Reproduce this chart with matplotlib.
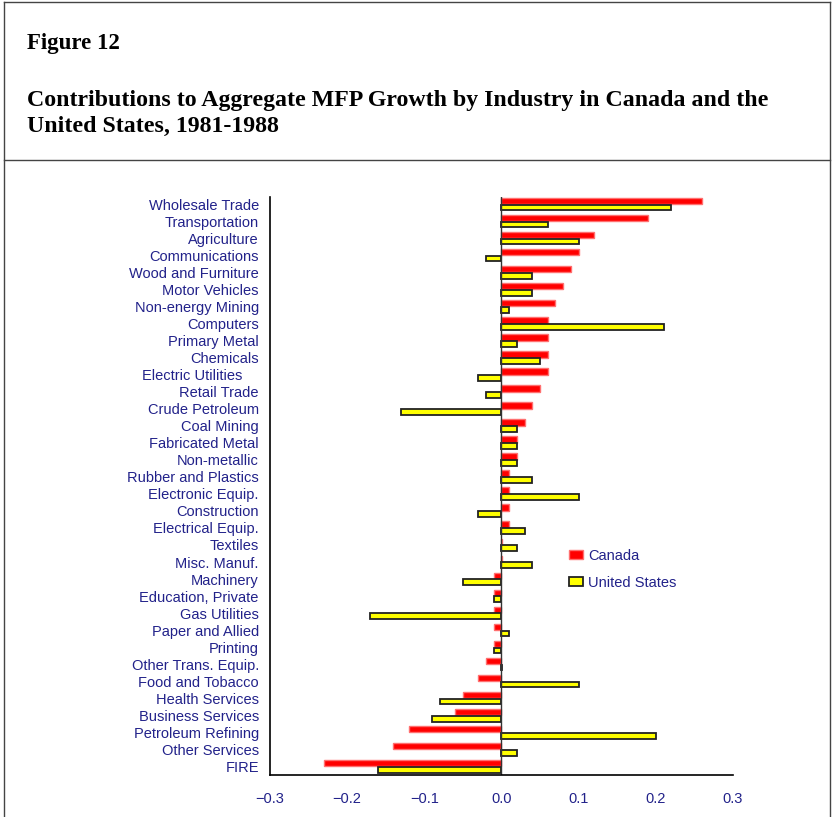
import numpy as np
import matplotlib
matplotlib.use('Agg')
import matplotlib.pyplot as plt
from matplotlib.lines import Line2D
from matplotlib.patches import Patch

# industries, top to bottom as in the figure
industries = ['Wholesale Trade', 'Transportation', 'Agriculture', 'Communications',
              'Wood and Furniture', 'Motor Vehicles', 'Non-energy Mining', 'Computers',
              'Primary Metal', 'Chemicals', 'Electric Utilities    ', 'Retail Trade',
              'Crude Petroleum', 'Coal Mining', 'Fabricated Metal', 'Non-metallic',
              'Rubber and Plastics', 'Electronic Equip.', 'Construction',
              'Electrical Equip.', 'Textiles', 'Misc. Manuf.', 'Machinery',
              'Education, Private', 'Gas Utilities', 'Paper and Allied', 'Printing',
              'Other Trans. Equip.', 'Food and Tobacco', 'Health Services',
              'Business Services', 'Petroleum Refining', 'Other Services', 'FIRE']

canada = [0.26, 0.19, 0.12, 0.10, 0.09, 0.08, 0.07, 0.06, 0.06, 0.06, 0.06, 0.05,
          0.04, 0.03, 0.02, 0.02, 0.01, 0.01, 0.01, 0.01, 0.0005, 0.0005, -0.01,
          -0.01, -0.01, -0.01, -0.01, -0.02, -0.03, -0.05, -0.06, -0.12, -0.14, -0.23]

united_states = [0.22, 0.06, 0.10, -0.02, 0.04, 0.04, 0.01, 0.21, 0.02, 0.05, -0.03,
                 -0.02, -0.13, 0.02, 0.02, 0.02, 0.04, 0.10, -0.03, 0.03, 0.02, 0.04,
                 -0.05, -0.01, -0.17, 0.01, -0.01, 0.0005, 0.10, -0.08, -0.09, 0.20,
                 0.02, -0.16]

xticks = [-0.3, -0.2, -0.1, 0.0, 0.1, 0.2, 0.3]

navy = '#22228a'
plt.rcParams['font.family'] = ['Liberation Sans', 'DejaVu Sans']

fig = plt.figure(figsize=(8.33, 8.17), dpi=100)
ax = fig.add_axes([0.324, 0.0514, 0.556, 0.708])

y = np.arange(len(industries))
ax.barh(y - 0.19, canada, height=0.38, color='#ff0000', edgecolor='#ff7070', linewidth=1.0)
ax.barh(y + 0.19, united_states, height=0.34, color='#ffff00', edgecolor='#222222', linewidth=1.3)

ax.axvline(0, color='#333333', lw=1.0)
ax.set_xlim(-0.3, 0.3)
ax.set_ylim(len(industries) - 0.5, -0.45)
ax.set_yticks(y)
ax.set_yticklabels(industries)
ax.set_xticks(xticks)
ax.set_xticklabels(['0.0' if v == 0 else ('\u2212%.1f' % -v if v < 0 else '%.1f' % v) for v in xticks])
ax.tick_params(axis='both', length=0, labelsize=10.5, colors=navy)
ax.tick_params(axis='x', pad=12)
ax.tick_params(axis='y', pad=8)
for s in ['top', 'right']:
    ax.spines[s].set_visible(False)
for s in ['left', 'bottom']:
    ax.spines[s].set_linewidth(1.2)
    ax.spines[s].set_color('black')

handles = [Patch(facecolor='#ff0000', edgecolor='#ff7070', label='Canada'),
           Patch(facecolor='#ffff00', edgecolor='#222222', linewidth=1.3, label='United States')]
leg = ax.legend(handles=handles, loc='upper left', bbox_to_anchor=(0.617, 0.414),
                frameon=False, fontsize=10.5, labelspacing=0.9, handlelength=1.0,
                handleheight=0.6, handletextpad=0.35)
for t in leg.get_texts():
    t.set_color(navy)

# frame around the page-style figure
frame = dict(color='#444444', lw=1.0, transform=fig.transFigure)
fig.add_artist(Line2D([0.005, 0.005], [0, 0.998], **frame))
fig.add_artist(Line2D([0.005, 0.996], [0.998, 0.998], **frame))
fig.add_artist(Line2D([0.996, 0.996], [0, 0.998], **frame))
fig.add_artist(Line2D([0.005, 0.996], [0.804, 0.804], **frame))

fig.text(0.032, 0.947, 'Figure 12', family='Liberation Serif', weight='bold',
         fontsize=16.5, va='center', ha='left')
fig.text(0.032, 0.861, 'Contributions to Aggregate MFP Growth by Industry in Canada and the\n'
         'United States, 1981-1988', family='Liberation Serif', weight='bold',
         fontsize=17.2, va='center', ha='left', linespacing=1.28)

fig.savefig('out.png', dpi=100)
